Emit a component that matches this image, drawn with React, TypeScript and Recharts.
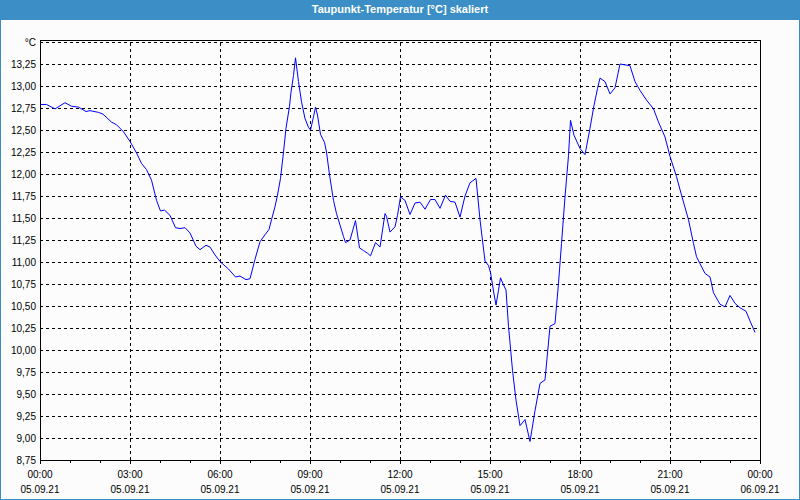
import { Line, LineChart, CartesianGrid, ReferenceLine, XAxis, YAxis } from 'recharts'

// minutes since 05.09.21 00:00
const minutes = [
  0, 13, 30, 50, 63, 77, 92, 100, 117, 126, 143, 153, 167, 180, 193, 203, 213, 223, 233, 241,
  249, 260, 271, 280, 290, 300, 312, 320, 332, 340, 350, 361, 377, 391, 400, 412, 420, 430, 440, 450,
  458, 463, 470, 475, 481, 487, 492, 499, 502, 507, 511, 517, 523, 530, 537, 541, 547, 551, 555, 561,
  569, 573, 579, 587, 593, 600, 607, 611, 620, 631, 639, 647, 655, 661, 671, 680, 690, 693, 700, 710,
  715, 721, 730, 740, 750, 760, 770, 781, 790, 800, 811, 820, 830, 840, 850, 860, 872, 880, 890, 897,
  901, 907, 912, 917, 921, 927, 932, 937, 945, 952, 960, 970, 980, 990, 1000, 1010, 1020, 1030, 1037, 1043,
  1050, 1057, 1061, 1068, 1080, 1090, 1100, 1108, 1115, 1120, 1130, 1140, 1150, 1160, 1170, 1180, 1190, 1200, 1213, 1227,
  1237, 1250, 1260, 1273, 1283, 1297, 1307, 1313, 1320, 1330, 1340, 1347, 1360, 1370, 1380, 1390, 1400, 1412, 1420, 1430,
]

const dewPoint = [
  12.79, 12.79, 12.74, 12.81, 12.77, 12.76, 12.71, 12.72, 12.7, 12.68, 12.59, 12.56, 12.48, 12.37, 12.24, 12.12, 12.05, 11.93, 11.7, 11.58,
  11.59, 11.53, 11.39, 11.38, 11.39, 11.33, 11.18, 11.14, 11.19, 11.17, 11.08, 11.0, 10.92, 10.83, 10.84, 10.8, 10.81, 11.03, 11.23, 11.31,
  11.37, 11.48, 11.63, 11.76, 11.95, 12.25, 12.52, 12.77, 12.93, 13.12, 13.32, 13.05, 12.82, 12.63, 12.53, 12.5, 12.65, 12.76, 12.67, 12.45,
  12.36, 12.25, 11.99, 11.7, 11.55, 11.42, 11.29, 11.22, 11.25, 11.47, 11.16, 11.13, 11.1, 11.07, 11.22, 11.17, 11.55, 11.52, 11.34, 11.4,
  11.53, 11.74, 11.7, 11.54, 11.67, 11.68, 11.6, 11.71, 11.71, 11.61, 11.76, 11.69, 11.68, 11.51, 11.75, 11.9, 11.95, 11.48, 11.01, 10.96,
  10.88, 10.67, 10.51, 10.68, 10.82, 10.74, 10.68, 10.27, 9.77, 9.43, 9.14, 9.21, 8.96, 9.31, 9.62, 9.66, 10.27, 10.3, 10.76, 11.21,
  11.74, 12.21, 12.61, 12.44, 12.29, 12.22, 12.52, 12.78, 12.97, 13.09, 13.05, 12.91, 12.98, 13.25, 13.24, 13.23, 13.05, 12.95, 12.84, 12.74,
  12.59, 12.42, 12.2, 11.97, 11.76, 11.48, 11.21, 11.06, 10.98, 10.87, 10.83, 10.65, 10.52, 10.49, 10.62, 10.53, 10.48, 10.44, 10.33, 10.2,
]

const hourTicks = Array.from({ length: 25 }, (_, i) => i * 60)
const majorTicks = [0, 180, 360, 540, 720, 900, 1080, 1260, 1440]
const timeLabels = ['00:00', '03:00', '06:00', '09:00', '12:00', '15:00', '18:00', '21:00', '00:00']
const dateLabels = ['05.09.21', '05.09.21', '05.09.21', '05.09.21', '05.09.21', '05.09.21', '05.09.21', '05.09.21', '06.09.21']
const yTicks = [
  8.75, 9, 9.25, 9.5, 9.75, 10, 10.25, 10.5, 10.75, 11, 11.25, 11.5, 11.75, 12, 12.25, 12.5, 12.75, 13, 13.25, 13.5,
]

const data = minutes.map((m, i) => ({ t: m, v: dewPoint[i] }))

const FONT = '"Liberation Sans", Arial, sans-serif'

function TimeTick(props: any) {
  const { x, y, payload } = props
  const idx = majorTicks.indexOf(payload.value)
  const major = idx >= 0
  return (
    <g>
      <line x1={x} y1={y} x2={x} y2={y + (major ? 4 : 3)} stroke="#000" shapeRendering="crispEdges" />
      {major && (
        <text x={x} y={y} textAnchor="middle" fontSize={10} fontFamily={FONT} fill="#000">
          <tspan x={x} dy={18}>{timeLabels[idx]}</tspan>
          <tspan x={x} dy={15}>{dateLabels[idx]}</tspan>
        </text>
      )}
    </g>
  )
}

export default function App() {
  return (
    <div
      style={{
        position: 'absolute',
        left: 0,
        top: 0,
        width: 800,
        height: 500,
        boxSizing: 'border-box',
        background: '#fbfcfb',
        border: '1px solid #3b8fc6',
        borderTop: 'none',
        fontFamily: FONT,
      }}
    >
      <div
        style={{
          position: 'absolute',
          left: -1,
          top: 0,
          width: 800,
          height: 20,
          background: '#3b8fc6',
          color: '#fff',
          fontSize: 11,
          fontWeight: 'bold',
          textAlign: 'center',
          lineHeight: '18px',
        }}
      >
        Taupunkt-Temperatur [°C] skaliert
      </div>
      <div style={{ position: 'absolute', left: -1, top: 0 }}>
        <LineChart width={800} height={500} data={data} margin={{ top: 42, right: 40, bottom: 0, left: 0 }}>
          <CartesianGrid vertical={false} stroke="#000" strokeDasharray="3 3" shapeRendering="crispEdges" />
          {majorTicks.slice(1, -1).map((m) => (
            <ReferenceLine key={m} x={m} stroke="#000" strokeDasharray="3 3" shapeRendering="crispEdges" />
          ))}
          <XAxis
            dataKey="t"
            type="number"
            domain={[0, 1440]}
            ticks={hourTicks}
            interval={0}
            height={40}
            axisLine={false}
            tickLine={false}
            tickSize={0}
            tickMargin={0}
            tick={<TimeTick />}
          />
          <YAxis
            type="number"
            domain={[8.75, 13.5]}
            ticks={yTicks}
            interval={0}
            width={40}
            axisLine={false}
            tickLine={false}
            tickSize={0}
            tickMargin={4}
            tick={{ fontSize: 10, fontFamily: FONT, fill: '#000' }}
            tickFormatter={(v: number) => (v === 13.5 ? '°C' : v.toFixed(2).replace('.', ','))}
          />
          <Line
            type="linear"
            dataKey="v"
            stroke="#0000ff"
            strokeWidth={1}
            dot={false}
            isAnimationActive={false}
          />
        </LineChart>
      </div>
      <div
        style={{
          position: 'absolute',
          left: 39,
          top: 40,
          width: 721,
          height: 421,
          boxSizing: 'border-box',
          border: '1px solid #000',
          pointerEvents: 'none',
        }}
      />
    </div>
  )
}
